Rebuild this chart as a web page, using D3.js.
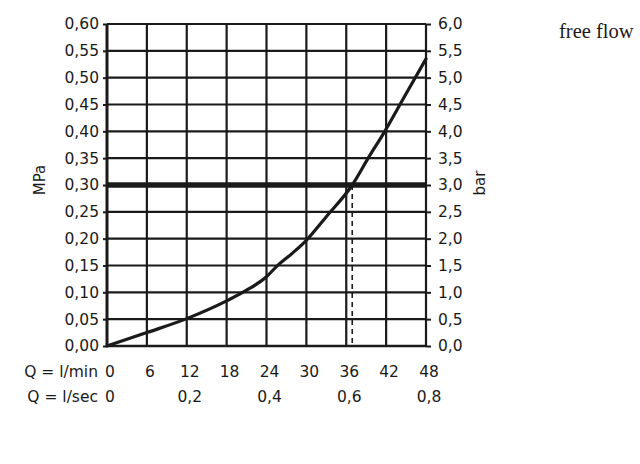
<!DOCTYPE html>
<html>
<head>
<meta charset="utf-8">
<script src="https://cdn.jsdelivr.net/npm/d3@7"></script>
<style>
  html, body { margin: 0; padding: 0; background: #fff; }
  svg { display: block; }
  text { font-family: "DejaVu Sans", sans-serif; fill: #1a1a1a; }
</style>
</head>
<body>
<svg id="chart" width="640" height="464"></svg>
<script>
// ---- data ----
const flowLpm = [0, 6, 12, 18, 21, 24, 25.5, 28, 30, 33, 36.9, 39.3, 41.8, 45, 48];
const pressureMPa = [0, 0.025, 0.051, 0.084, 0.104, 0.129, 0.148, 0.174, 0.197, 0.241, 0.30, 0.35, 0.40, 0.47, 0.535];
const lpmTicks = [0, 6, 12, 18, 24, 30, 36, 42, 48];
const lpsTicks = [0, 12, 24, 36, 48];
const lpsLabels = ["0", "0,2", "0,4", "0,6", "0,8"];
const mpaTicks = [0, 0.05, 0.10, 0.15, 0.20, 0.25, 0.30, 0.35, 0.40, 0.45, 0.50, 0.55, 0.60];
const barTicks = [0, 0.5, 1.0, 1.5, 2.0, 2.5, 3.0, 3.5, 4.0, 4.5, 5.0, 5.5, 6.0];
const refPressure = 0.30;
const refFlow = 36.9;
const rowLabels = ["Q = l/min", "Q = l/sec"];
const axisTitles = { left: "MPa", right: "bar" };
const noteText = "free flow";

// ---- layout ----
const svg = d3.select("#chart");
const x = d3.scaleLinear().domain([0, 48]).range([107, 426]);
const y = d3.scaleLinear().domain([0, 0.6]).range([346, 24]);
const yBar = d3.scaleLinear().domain([0, 6]).range([346, 24]);
const ink = "#1a1a1a";
const fmt2 = d => d3.format(".2f")(d).replace(".", ",");
const fmt1 = d => d3.format(".1f")(d).replace(".", ",");

// vertical grid
svg.append("g").selectAll("line").data(lpmTicks).join("line")
  .attr("x1", d => x(d)).attr("x2", d => x(d))
  .attr("y1", y(0.6)).attr("y2", y(0))
  .attr("stroke", ink).attr("stroke-width", d => d === 0 ? 3 : 2.2);

// left axis ticks + labels
const left = svg.append("g").attr("transform", `translate(${x(0)},0)`)
  .call(d3.axisLeft(y).tickValues(mpaTicks).tickFormat(fmt2).tickSize(4).tickPadding(4));
left.select(".domain").remove();
left.selectAll("line").attr("stroke", ink).attr("stroke-width", 2);
left.selectAll("text").style("font-size", "15.5px").attr("fill", ink);

// right axis ticks + labels
const right = svg.append("g").attr("transform", `translate(${x(48)},0)`)
  .call(d3.axisRight(yBar).tickValues(barTicks).tickFormat(fmt1).tickSize(5).tickPadding(7));
right.select(".domain").remove();
right.selectAll("line").attr("stroke", ink).attr("stroke-width", 2);
right.selectAll("text").style("font-size", "15.5px").attr("fill", ink);

// horizontal grid
svg.append("g").selectAll("line").data(mpaTicks).join("line")
  .attr("x1", x(0)).attr("x2", x(48))
  .attr("y1", d => y(d)).attr("y2", d => y(d))
  .attr("stroke", ink).attr("stroke-width", d => d === 0 ? 2.6 : 2.2);

// reference thick line
svg.append("line")
  .attr("x1", x(0)).attr("x2", x(48))
  .attr("y1", y(refPressure)).attr("y2", y(refPressure))
  .attr("stroke", ink).attr("stroke-width", 5.5);

// dashed line
svg.append("line")
  .attr("x1", x(refFlow)).attr("x2", x(refFlow))
  .attr("y1", y(refPressure)).attr("y2", y(0))
  .attr("stroke", ink).attr("stroke-width", 1.6)
  .attr("stroke-dasharray", "5,4");

// curve
const pts = flowLpm.map((f, i) => [f, pressureMPa[i]]);
svg.append("path").datum(pts)
  .attr("d", d3.line().x(d => x(d[0])).y(d => y(d[1])).curve(d3.curveMonotoneX))
  .attr("fill", "none").attr("stroke", ink).attr("stroke-width", 3.2)
  .attr("stroke-linecap", "round");

// bottom rows
const row1 = 377, row2 = 402;
svg.append("text").attr("x", 98).attr("y", row1).attr("text-anchor", "end")
  .style("font-size", "15.5px").text(rowLabels[0]);
svg.append("text").attr("x", 98).attr("y", row2).attr("text-anchor", "end")
  .style("font-size", "15.5px").text(rowLabels[1]);
svg.append("g").selectAll("text").data(lpmTicks).join("text")
  .attr("x", d => x(d) + 3).attr("y", row1).attr("text-anchor", "middle")
  .style("font-size", "15.5px").text(d => d);
svg.append("g").selectAll("text").data(lpsTicks).join("text")
  .attr("x", (d, i) => x(d) + 3).attr("y", row2).attr("text-anchor", "middle")
  .style("font-size", "15.5px").text((d, i) => lpsLabels[i]);

// axis titles
svg.append("text").attr("transform", "translate(45,180) rotate(-90)")
  .attr("text-anchor", "middle").style("font-size", "15px").text(axisTitles.left);
svg.append("text").attr("transform", "translate(485,183) rotate(-90)")
  .attr("text-anchor", "middle").style("font-size", "15px").text(axisTitles.right);

// note
svg.append("text").attr("x", 559).attr("y", 38)
  .style("font-family", "'Liberation Serif', serif").style("font-size", "20.5px")
  .text(noteText);
</script>
</body>
</html>
